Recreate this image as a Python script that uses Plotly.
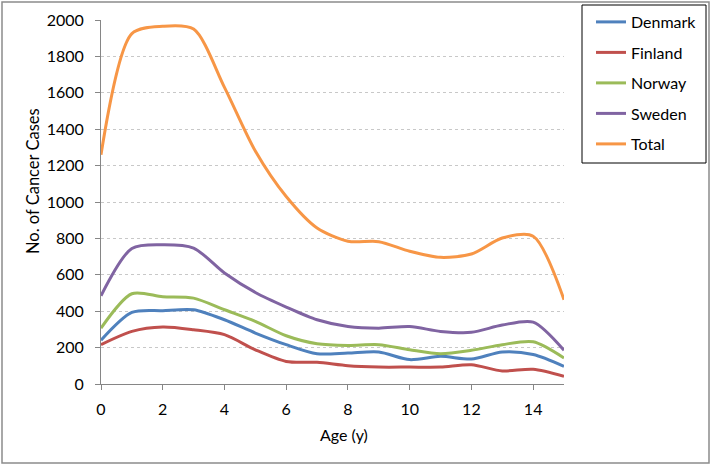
import plotly.graph_objects as go

ages = list(range(0, 16))
denmark = [240, 393, 403, 408, 353, 280, 216, 166, 170, 176, 134, 152, 137, 176, 162, 97]
finland = [216, 289, 313, 298, 271, 188, 124, 119, 100, 93, 93, 93, 106, 72, 81, 42]
norway = [307, 496, 480, 472, 408, 344, 265, 221, 212, 216, 188, 166, 185, 216, 232, 143]
sweden = [485, 745, 765, 747, 610, 503, 423, 353, 316, 307, 316, 289, 284, 324, 340, 185]
total = [1260, 1925, 1965, 1950, 1630, 1280, 1030, 857, 784, 782, 729, 696, 714, 802, 812, 463]

series = [
    ("Denmark", denmark, "#4F81BD"),
    ("Finland", finland, "#C0504D"),
    ("Norway", norway, "#9BBB59"),
    ("Sweden", sweden, "#8064A2"),
    ("Total", total, "#F79646"),
]

FONT = "Lato, Carlito, Calibri, 'Open Sans', sans-serif"
W, H = 712, 466
L, R, T, B = 101, 564, 20, 384

fig = go.Figure()
for name, vals, col in series:
    fig.add_trace(go.Scatter(
        x=ages, y=vals, name=name, mode="lines",
        line=dict(color=col, width=3, shape="spline", smoothing=0.8),
        legendgroup=name,
    ))

pw, ph = R - L, B - T
def px(x):
    return (x - L) / pw
def py(y):
    return (B - y) / ph

fig.update_layout(
    width=W, height=H,
    margin=dict(l=L, r=W - R, t=T, b=H - B, pad=0, autoexpand=False),
    paper_bgcolor="white", plot_bgcolor="white",
    font=dict(family=FONT, size=16, color="#000000"),
    showlegend=True,
    legend=dict(
        xref="container", yref="container",
        x=591 / W, y=1 - 5 / H, xanchor="left", yanchor="top",
        bgcolor="rgba(0,0,0,0)", borderwidth=0,
        font=dict(family=FONT, size=16, color="#000000"),
        traceorder="grouped", tracegroupgap=6.7, itemwidth=30,
    ),
    xaxis=dict(
        range=[0, 15], tickmode="array", tickvals=[0, 2, 4, 6, 8, 10, 12, 14],
        showgrid=False, zeroline=False, automargin=False,
        showline=True, linecolor="#868686", linewidth=1,
        ticks="outside", ticklen=5, tickcolor="#868686",
        tickfont=dict(family=FONT, size=16), ticklabelstandoff=6,
    ),
    yaxis=dict(
        range=[0, 2000], dtick=200, automargin=False,
        showgrid=True, gridcolor="#C8C8C8", griddash="dot", gridwidth=1,
        zeroline=False,
        showline=True, linecolor="#868686", linewidth=1,
        ticks="outside", ticklen=5, tickcolor="#868686",
        tickfont=dict(family=FONT, size=16), ticklabelstandoff=8,
    ),
    shapes=[
        dict(type="rect", xref="paper", yref="paper",
             x0=px(2), x1=px(709), y0=py(463), y1=py(2),
             line=dict(color="#8C8C8C", width=1.5), layer="below"),
        dict(type="rect", xref="paper", yref="paper",
             x0=px(582), x1=px(706), y0=py(163), y1=py(5),
             line=dict(color="#000000", width=1)),
    ],
    annotations=[
        dict(text="Age (y)", xref="paper", yref="paper", x=px(344), y=py(434),
             showarrow=False, xanchor="center", yanchor="middle",
             font=dict(family=FONT, size=16)),
        dict(text="No. of Cancer Cases", xref="paper", yref="paper", x=px(33), y=py(181),
             showarrow=False, xanchor="center", yanchor="middle", textangle=-90,
             font=dict(family=FONT, size=16.5)),
    ],
)

fig.write_html("out.html", config={"displayModeBar": False},
               post_script="document.body.style.margin='0';document.body.style.padding='0';")
